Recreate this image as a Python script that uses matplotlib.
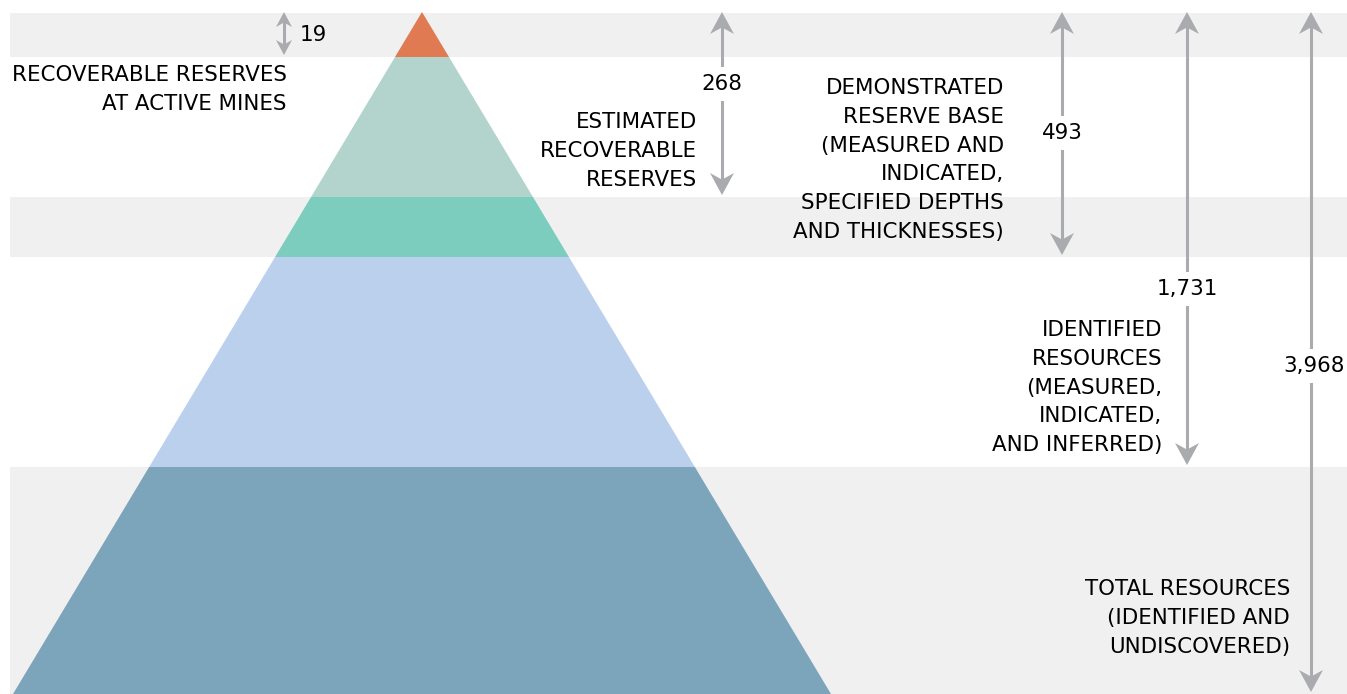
import matplotlib
import matplotlib.pyplot as plt
from matplotlib.patches import Polygon, Rectangle

matplotlib.use('Agg')
plt.rcParams['font.family'] = ['DejaVu Sans']

# values (billion short tons) and their labels
values = [19, 268, 493, 1731, 3968]
value_labels = ['19', '268', '493', '1,731', '3,968']
categories = [
    ['RECOVERABLE RESERVES', 'AT ACTIVE MINES'],
    ['ESTIMATED', 'RECOVERABLE', 'RESERVES'],
    ['DEMONSTRATED', 'RESERVE BASE', '(MEASURED AND', 'INDICATED,',
     'SPECIFIED DEPTHS', 'AND THICKNESSES)'],
    ['IDENTIFIED', 'RESOURCES', '(MEASURED,', 'INDICATED,', 'AND INFERRED)'],
    ['TOTAL RESOURCES', '(IDENTIFIED AND', 'UNDISCOVERED)'],
]
tier_colors = ['#e07a52', '#b2d4cc', '#7dcdbf', '#bad0ec', '#7ca4ba']

# layout (pixel units)
W, H = 1347, 694
top = 12
tier_bottoms = [57, 197, 257, 467, 694]
apex_x, half_base = 422, 409
arrow_x = [284, 722, 1062, 1187, 1311]
arrow_ends = [55, 195, 255, 465, 692]
value_pos = [(300, 35), (722, 84), (1062, 133), (1187, 289), (1314, 366)]
text_right = [287, 697, 1004, 1162, 1290]
text_top = [75, 122, 88, 330, 589]
line_step = 28.8
gray = '#a9abae'
fs = 15.4

fig = plt.figure(figsize=(W / 100, H / 100), dpi=100)
ax = fig.add_axes([0, 0, 1, 1])
ax.set_xlim(0, W)
ax.set_ylim(H, 0)
ax.axis('off')

# gray background bands
for y0, y1 in [(13, 57), (197, 257), (467, 694)]:
    ax.add_patch(Rectangle((10, y0), W - 10, y1 - y0, color='#f0f0f0', lw=0, zorder=0))

# pyramid tiers
def half_w(y):
    return half_base * (y - top) / (H - top)

prev = top
for yb, c in zip(tier_bottoms, tier_colors):
    pts = [(apex_x - half_w(prev), prev), (apex_x + half_w(prev), prev),
           (apex_x + half_w(yb), yb), (apex_x - half_w(yb), yb)]
    ax.add_patch(Polygon(pts, closed=True, color=c, lw=0, zorder=1))
    prev = yb


def head(x, y, d, w, l):
    # notched arrow head, tip at (x, y), pointing d (-1 up, +1 down)
    notch = l * 0.3
    pts = [(x, y), (x - w / 2, y - d * l), (x, y - d * (l - notch)), (x + w / 2, y - d * l)]
    ax.add_patch(Polygon(pts, closed=True, color=gray, lw=0, zorder=3))


for i, (x, yend) in enumerate(zip(arrow_x, arrow_ends)):
    small = i == 0
    w, l = (16, 15) if small else (24, 22)
    ax.plot([x, x], [top + l * 0.6, yend - l * 0.6], color=gray, lw=2.2, zorder=2,
            solid_capstyle='butt')
    head(x, top, -1, w, l)
    head(x, yend, 1, w, l)

for i, lab in enumerate(value_labels):
    vx, vy = value_pos[i]
    if i == 0:
        ax.text(vx, vy, lab, ha='left', va='center', fontsize=fs, zorder=4)
    else:
        ax.text(vx, vy, lab, ha='center', va='center', fontsize=fs, zorder=4,
                bbox=dict(facecolor='white', edgecolor='none', pad=5))

for lines, xr, yt in zip(categories, text_right, text_top):
    for j, s in enumerate(lines):
        ax.text(xr, yt + j * line_step, s, ha='right', va='center', fontsize=fs, zorder=4)

fig.savefig('out.png', dpi=100)
